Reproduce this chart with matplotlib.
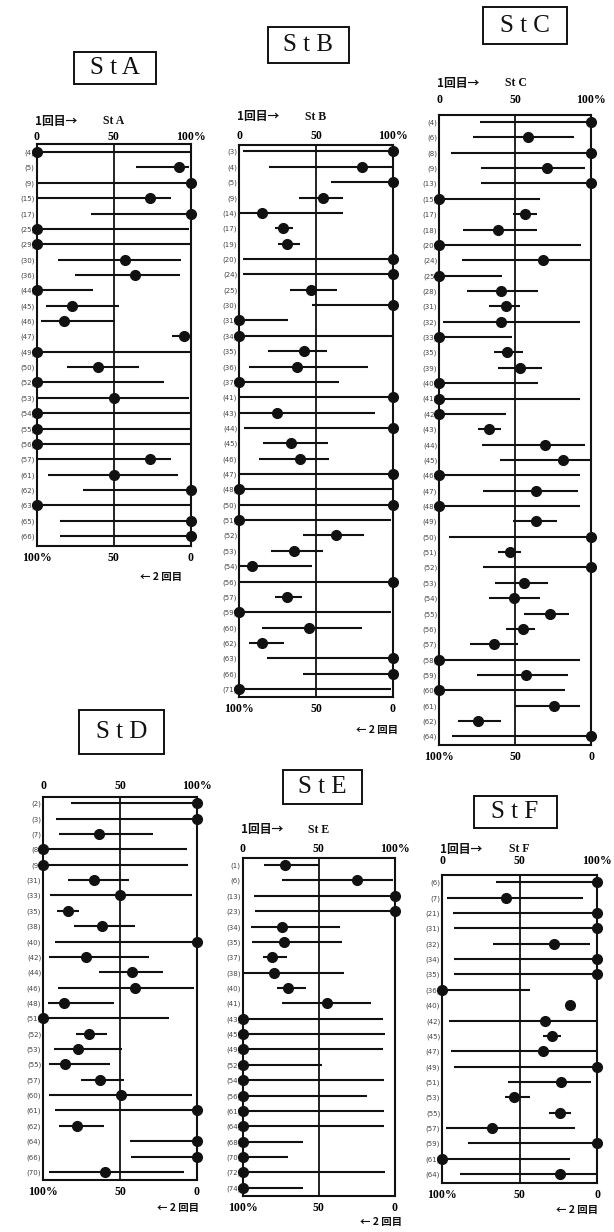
import matplotlib.pyplot as plt
from matplotlib.patches import Rectangle

W, H = 614, 1232
INK = '#111111'
CJK = ['Noto Sans CJK JP', 'DejaVu Sans']
SERIF = ['Liberation Serif', 'DejaVu Serif']

# ---- data: dot = 1回目 (%), line = range (%) on the top scale ----
a_labels = ['(4)', '(5)', '(9)', '(15)', '(17)', '(25)', '(29)', '(30)', '(36)', '(44)',
            '(45)', '(46)', '(47)', '(49)', '(50)', '(52)', '(53)', '(54)', '(55)', '(56)',
            '(57)', '(61)', '(62)', '(63)', '(65)', '(66)']
a_dot = [0, 92.5, 100, 73.5, 100, 0, 0, 57.3, 63.8, 0,
         22.7, 17.7, 95.2, 0, 39.6, 0, 50, 0, 0, 0,
         73.6, 50, 100, 0, 100, 100]
a_lo = [0, 64.5, 0, 1, 35.5, 0, 0, 13.6, 24.9, 0,
        6, 2.8, 87.7, 0, 19.5, 0, 0, 0, 0, 0,
        0, 7.1, 30, 0, 15, 15]
a_hi = [100, 99, 100, 87, 100, 99, 100, 93.7, 93, 36.8,
        53.4, 50.9, 100, 100, 66, 82.3, 99, 100, 100, 100,
        87.2, 91.6, 100, 100, 100, 100]

b_labels = ['(3)', '(4)', '(5)', '(9)', '(14)', '(17)', '(19)', '(20)', '(24)', '(25)',
            '(30)', '(31)', '(34)', '(35)', '(36)', '(37)', '(41)', '(43)', '(44)', '(45)',
            '(46)', '(47)', '(48)', '(50)', '(51)', '(52)', '(53)', '(54)', '(56)', '(57)',
            '(59)', '(60)', '(62)', '(63)', '(66)', '(71)']
b_dot = [100, 79.8, 100, 54.8, 14.6, 28.7, 30.9, 100, 100, 46.7,
         100, 0, 0, 42, 37.6, 0, 100, 24.6, 100, 33.7,
         39.8, 100, 0, 100, 0, 63, 35.9, 8, 100, 31,
         0, 45.2, 14.6, 100, 100, 0]
b_lo = [2.6, 19.3, 60, 38.9, 0, 23.3, 25, 2.6, 2.6, 33,
        47.6, 0, 0, 18.5, 6.5, 0, 0, 0, 3, 15.2,
        12.6, 0, 0, 0, 0, 41.3, 20.7, 0, 0, 23.5,
        0, 14.8, 6, 18, 41.3, 0]
b_hi = [100, 100, 100, 67.4, 67.4, 34.8, 39.6, 100, 100, 63.5,
        100, 31.5, 100, 57, 83.7, 65.2, 100, 88.7, 100, 57.6,
        58.3, 100, 100, 100, 99, 81, 54.3, 47.4, 100, 40.9,
        99, 80, 29, 100, 100, 99]

c_labels = ['(4)', '(6)', '(8)', '(9)', '(13)', '(15)', '(17)', '(18)', '(20)', '(24)',
            '(25)', '(28)', '(31)', '(32)', '(33)', '(35)', '(39)', '(40)', '(41)', '(42)',
            '(43)', '(44)', '(45)', '(46)', '(47)', '(48)', '(49)', '(50)', '(51)', '(52)',
            '(53)', '(54)', '(55)', '(56)', '(57)', '(58)', '(59)', '(60)', '(61)', '(62)',
            '(64)']
c_dot = [100, 58.7, 100, 70.8, 100, 0, 56.5, 38.9, 0, 68.1,
         0, 40.4, 43.7, 40.4, 0, 44.4, 53.2, 0, 0, 0,
         32.5, 70, 81.7, 0, 64, 0, 63.6, 100, 46.4, 100,
         55.6, 49.2, 72.8, 55.2, 36, 0, 57, 0, 75.5, 25.4,
         100]
c_lo = [26.8, 22.4, 7.5, 27.3, 27.3, 0, 48.8, 15.8, 0, 14.7,
        0, 18.5, 33, 2.6, 0, 36.3, 38.9, 0, 0, 0,
        25.8, 28, 40.2, 0, 28.7, 0, 48.6, 6.6, 39, 28.7,
        36.4, 33, 55.8, 44, 20.5, 0, 25, 0, 49.7, 12.1,
        8.4]
c_hi = [100, 89, 100, 96, 100, 66.4, 64.2, 64.6, 93.2, 100,
        41.1, 64.8, 53.2, 92.7, 48.1, 55, 67.5, 65.1, 93, 43.7,
        40.4, 96, 100, 92.7, 91.6, 93, 77.3, 100, 54, 100,
        71.7, 66.2, 85.6, 63.4, 51.9, 92.7, 85, 82.8, 92.7, 40.8,
        100]

d_labels = ['(2)', '(3)', '(7)', '(8)', '(9)', '(31)', '(33)', '(35)', '(38)', '(40)',
            '(42)', '(44)', '(46)', '(48)', '(51)', '(52)', '(53)', '(55)', '(57)', '(60)',
            '(61)', '(62)', '(64)', '(66)', '(70)']
d_dot = [100, 100, 36.5, 0, 0, 33, 50, 15.9, 38, 100,
         27.6, 57.5, 59.7, 13.2, 0, 29.9, 22.3, 14.1, 36.9, 50.5,
         100, 21.9, 100, 100, 40.1]
d_lo = [17.8, 8.3, 10.4, 0, 0, 15.9, 4.3, 8.7, 20, 7.6,
        3.9, 36.4, 9.3, 2.8, 0, 21.3, 7.2, 3.5, 24.5, 3.9,
        7.8, 10, 56.4, 57, 3.5]
d_hi = [100, 100, 71.7, 93.5, 94.1, 56.1, 96.7, 23.3, 59.8, 100,
        69.1, 78.1, 98.3, 46.2, 82, 41.4, 51.6, 43.4, 52.3, 96.7,
        100, 39.3, 100, 100, 91.8]

e_labels = ['(1)', '(6)', '(13)', '(23)', '(34)', '(35)', '(37)', '(38)', '(40)', '(41)',
            '(43)', '(45)', '(49)', '(52)', '(54)', '(56)', '(61)', '(64)', '(68)', '(70)',
            '(72)', '(74)']
e_dot = [27.8, 74.8, 100, 100, 25.6, 27.1, 19.5, 20.6, 30, 55.6,
         0, 0, 0, 0, 0, 0, 0, 0, 0, 0,
         0, 0]
e_lo = [14.2, 26, 7.4, 8.1, 5.5, 5.9, 13.1, 1.1, 22.3, 25.6,
        0, 0, 0, 0, 0, 0, 0, 0, 0, 0,
        0, 0]
e_hi = [50.1, 98.9, 100, 100, 63.9, 65.4, 28.9, 66.7, 41.6, 84,
        92.3, 93.4, 92.3, 51.9, 93, 81.8, 92.8, 92.8, 39.8, 29.5,
        93.4, 39.8]

f_labels = ['(6)', '(7)', '(21)', '(31)', '(32)', '(34)', '(35)', '(36)', '(40)', '(42)',
            '(45)', '(47)', '(49)', '(51)', '(53)', '(55)', '(57)', '(59)', '(61)', '(64)']
f_dot = [100, 40.9, 100, 100, 72.3, 100, 100, 0, 82.4, 66.3,
         70.7, 64.8, 100, 76.7, 46.1, 75.7, 32.2, 100, 0, 75.7]
f_lo = [34.6, 2.8, 7.1, 7.7, 32.5, 7.7, 7.7, 0, 82.4, 4.3,
        64.8, 5.4, 7.6, 42.4, 40.2, 69.1, 2.2, 16.3, 0, 11.5]
f_hi = [100, 90.5, 100, 100, 95.3, 100, 100, 56.6, 82.4, 100,
        76.5, 100, 100, 95.7, 56.5, 83.3, 85.4, 100, 82.6, 98.9]

# ---- layout in pixels (left, top, right, bottom of the plotting box) ----
panels = [
    dict(name='StA', st='St A', labels=a_labels, dot=a_dot, lo=a_lo, hi=a_hi,
         box=(36.7, 144, 191, 546), title=(115, 68, 82, 32), header=121,
         toppad=0.5, arrow=(182, 577)),
    dict(name='StB', st='St B', labels=b_labels, dot=b_dot, lo=b_lo, hi=b_hi,
         box=(239.3, 145, 392.7, 697), title=(308, 45, 81, 36), header=116.7,
         toppad=2.5, arrow=(398, 730)),
    dict(name='StC', st='St C', labels=c_labels, dot=c_dot, lo=c_lo, hi=c_hi,
         box=(439.3, 115, 591, 745), title=(524.7, 25.5, 84, 37), header=83.3,
         toppad=6.5, arrow=None),
    dict(name='StD', st=None, labels=d_labels, dot=d_dot, lo=d_lo, hi=d_hi,
         box=(43.3, 796.7, 196.7, 1180), title=(121.7, 732, 85, 44), header=None,
         toppad=3.5, arrow=(199, 1208)),
    dict(name='StE', st='St E', labels=e_labels, dot=e_dot, lo=e_lo, hi=e_hi,
         box=(242.7, 858.3, 395, 1196), title=(322, 787, 79, 34), header=830,
         toppad=2.2, arrow=(402, 1222)),
    dict(name='StF', st='St F', labels=f_labels, dot=f_dot, lo=f_lo, hi=f_hi,
         box=(442.3, 875, 597.3, 1183), title=(515, 812, 83, 32), header=849,
         toppad=5.5, arrow=(598, 1210)),
]

SPACING = 15.36

fig = plt.figure(figsize=(W / 100, H / 100), dpi=100)
fig.patch.set_facecolor('white')


def draw_panel(p):
    l, t, r, b = p['box']
    ax = fig.add_axes([l / W, 1 - b / H, (r - l) / W, (b - t) / H])
    n = len(p['labels'])
    rows = list(range(n))
    span = (b - t) / SPACING
    pad_top = (span - (n - 1)) * 0.45
    ax.set_xlim(0, 100)
    ax.set_ylim(n - 1 + (span - (n - 1) - pad_top), -pad_top)

    ax.axvline(50, color=INK, lw=1.3, zorder=1)
    ax.hlines(rows, p['lo'], p['hi'], color=INK, lw=1.5, zorder=2)
    ax.plot(p['dot'], rows, 'o', ms=7, color=INK, zorder=3, clip_on=False)

    for s in ax.spines.values():
        s.set_linewidth(1.5)
        s.set_color(INK)

    ax.xaxis.tick_top()
    ax.set_xticks([0, 50, 100], ['0', '50', '100%'])
    ax.tick_params(axis='x', length=0, pad=p['toppad'], labelsize=8.5)
    for lab in ax.get_xticklabels():
        lab.set_family(SERIF)
        lab.set_fontweight('bold')

    ax.set_yticks(rows, p['labels'])
    ax.tick_params(axis='y', length=0, pad=1.5, labelsize=5, labelcolor='#444444')

    sec = ax.secondary_xaxis('bottom', functions=(lambda x: 100 - x, lambda x: 100 - x))
    sec.set_xticks([100, 50, 0], ['100%', '50', '0'])
    sec.tick_params(length=0, pad=4, labelsize=8.5)
    sec.spines['bottom'].set_visible(False)
    for lab in sec.get_xticklabels():
        lab.set_family(SERIF)
        lab.set_fontweight('bold')

    # title box
    cx, cy, bw, bh = p['title']
    fig.add_artist(Rectangle(((cx - bw / 2) / W, 1 - (cy + bh / 2) / H), bw / W, bh / H,
                             transform=fig.transFigure, fill=False, ec=INK, lw=1.4))
    fig.text(cx / W, 1 - cy / H, ' '.join(p['name']), ha='center', va='center',
             fontsize=18, family=SERIF, color=INK)

    if p['header'] is not None:
        fig.text((l - 2) / W, 1 - p['header'] / H, '1回目→', ha='left', va='center',
                 fontsize=8.5, family=CJK, fontweight='bold', color=INK)
        fig.text((l + 0.43 * (r - l)) / W, 1 - p['header'] / H, p['st'], ha='left',
                 va='center', fontsize=8.5, family=SERIF, fontweight='bold', color=INK)
    if p['arrow'] is not None:
        fig.text(p['arrow'][0] / W, 1 - p['arrow'][1] / H, '← 2 回目', ha='right',
                 va='center', fontsize=7.5, family=CJK, fontweight='bold', color=INK)


for p in panels:
    draw_panel(p)

fig.savefig('out.png', dpi=100, facecolor='white')
